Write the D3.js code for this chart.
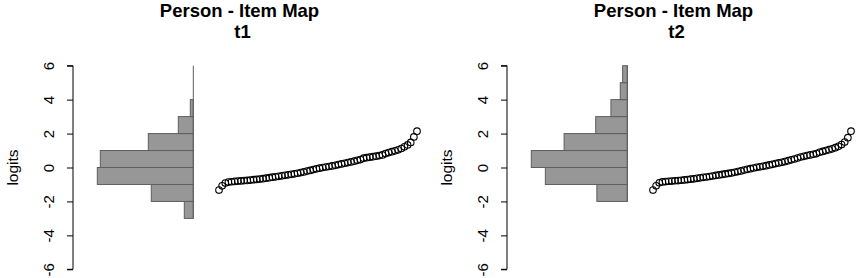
<!DOCTYPE html>
<html>
<head>
<meta charset="utf-8">
<script src="https://cdn.jsdelivr.net/npm/d3@7"></script>
<style>
  body { margin: 0; background: #fff; }
  svg { display: block; font-family: "Liberation Sans", Arial, sans-serif; }
</style>
</head>
<body>
<svg id="chart" width="858" height="278"></svg>
<script>
// logit bins for the person histogram (lower edges, width 1)
var binsT1 = [-3, -2, -1, 0, 1, 2, 3, 4, 5];
var countsT1 = [3, 14, 32, 31, 15, 5, 1, 0, 0];
var binsT2 = [-2, -1, 0, 1, 2, 3, 4, 5];
var countsT2 = [13, 35, 41, 27, 13.5, 7, 3, 2];

// sorted item locations (logits)
var itemsT1 = [-1.33, -1.08, -0.92, -0.86, -0.84, -0.82, -0.80, -0.79, -0.77, -0.76,
  -0.74, -0.72, -0.70, -0.68, -0.66, -0.63, -0.60, -0.57, -0.55, -0.52,
  -0.49, -0.46, -0.43, -0.40, -0.37, -0.34, -0.30, -0.26, -0.21, -0.17,
  -0.12, -0.08, -0.04, 0.00, 0.03, 0.06, 0.09, 0.13, 0.17, 0.21,
  0.25, 0.29, 0.33, 0.37, 0.42, 0.47, 0.55, 0.58, 0.61, 0.64,
  0.67, 0.70, 0.74, 0.82, 0.88, 0.93, 0.98, 1.04, 1.12, 1.22,
  1.33, 1.48, 1.80, 2.14];
var itemsT2 = [-1.33, -1.08, -0.90, -0.85, -0.83, -0.81, -0.80, -0.78, -0.77, -0.75,
  -0.73, -0.71, -0.69, -0.67, -0.64, -0.61, -0.58, -0.56, -0.53, -0.50,
  -0.47, -0.44, -0.41, -0.38, -0.35, -0.32, -0.28, -0.24, -0.20, -0.15,
  -0.11, -0.07, -0.03, 0.01, 0.04, 0.07, 0.11, 0.15, 0.19, 0.23,
  0.27, 0.31, 0.35, 0.40, 0.45, 0.50, 0.56, 0.62, 0.66, 0.70,
  0.74, 0.78, 0.82, 0.90, 0.95, 1.00, 1.05, 1.10, 1.17, 1.25,
  1.35, 1.50, 1.76, 2.14];

var yTicks = [-6, -4, -2, 0, 2, 4, 6];
var titles = ["t1", "t2"];

var svg = d3.select("#chart");

var y = d3.scaleLinear().domain([-6, 6]).range([269.3, 65.7]);

function drawPanel(dx, bins, counts, items, sub) {
  var g = svg.append("g").attr("transform", "translate(" + dx + ",0)");

  // titles
  g.append("text").attr("x", 239.5).attr("y", 16.5)
    .attr("text-anchor", "middle").attr("font-weight", "bold")
    .attr("font-size", 18.5).text("Person - Item Map");
  g.append("text").attr("x", 242.5).attr("y", 37.5)
    .attr("text-anchor", "middle").attr("font-weight", "bold")
    .attr("font-size", 18.5).text(sub);

  // y axis
  var axisX = 73;
  var axis = d3.axisLeft(y).tickValues(yTicks).tickSize(6).tickFormat(d3.format("d"));
  var ag = g.append("g").attr("transform", "translate(" + axisX + ",0)").call(axis);
  ag.select(".domain").attr("d", "M-6," + y(-6) + "H0V" + y(6) + "H-6").attr("stroke", "#000");
  ag.selectAll(".tick line").attr("stroke", "#000");
  ag.selectAll(".tick text")
    .attr("x", null).attr("dy", null)
    .attr("text-anchor", "middle")
    .attr("font-size", 15).attr("fill", "#000")
    .attr("transform", "translate(-25,0) rotate(-90)")
    .attr("dominant-baseline", "central")
    .text(d => String(d).replace("−", "-"));

  g.append("text")
    .attr("transform", "translate(12," + y(0) + ") rotate(-90)")
    .attr("text-anchor", "middle").attr("dominant-baseline", "central")
    .attr("font-size", 15.5).text("logits");

  // person histogram, growing leftward from histRight
  var histRight = 193.3;
  var w = d3.scaleLinear().domain([0, d3.max(counts)]).range([0, 96]);
  g.selectAll("rect.bar").data(bins).enter().append("rect")
    .attr("class", "bar")
    .attr("x", (d, i) => histRight - w(counts[i]))
    .attr("y", d => y(d + 1))
    .attr("width", (d, i) => w(counts[i]))
    .attr("height", d => y(d) - y(d + 1))
    .attr("fill", "#979797")
    .attr("stroke", "#5e5e5e")
    .attr("stroke-width", 1);
  // right edge (shows empty bins as a line)
  g.append("line")
    .attr("x1", histRight).attr("x2", histRight)
    .attr("y1", y(d3.min(bins))).attr("y2", y(d3.max(bins) + 1))
    .attr("stroke", "#5e5e5e").attr("stroke-width", 1);

  // items
  var x = d3.scaleLinear().domain([0, items.length - 1]).range([219, 417]);
  g.selectAll("circle.item").data(items).enter().append("circle")
    .attr("class", "item")
    .attr("cx", (d, i) => x(i))
    .attr("cy", d => y(d))
    .attr("r", 3.3)
    .attr("fill", "none")
    .attr("stroke", "#000")
    .attr("stroke-width", 1.1);
}

drawPanel(0, binsT1, countsT1, itemsT1, titles[0]);
drawPanel(434, binsT2, countsT2, itemsT2, titles[1]);
</script>
</body>
</html>
